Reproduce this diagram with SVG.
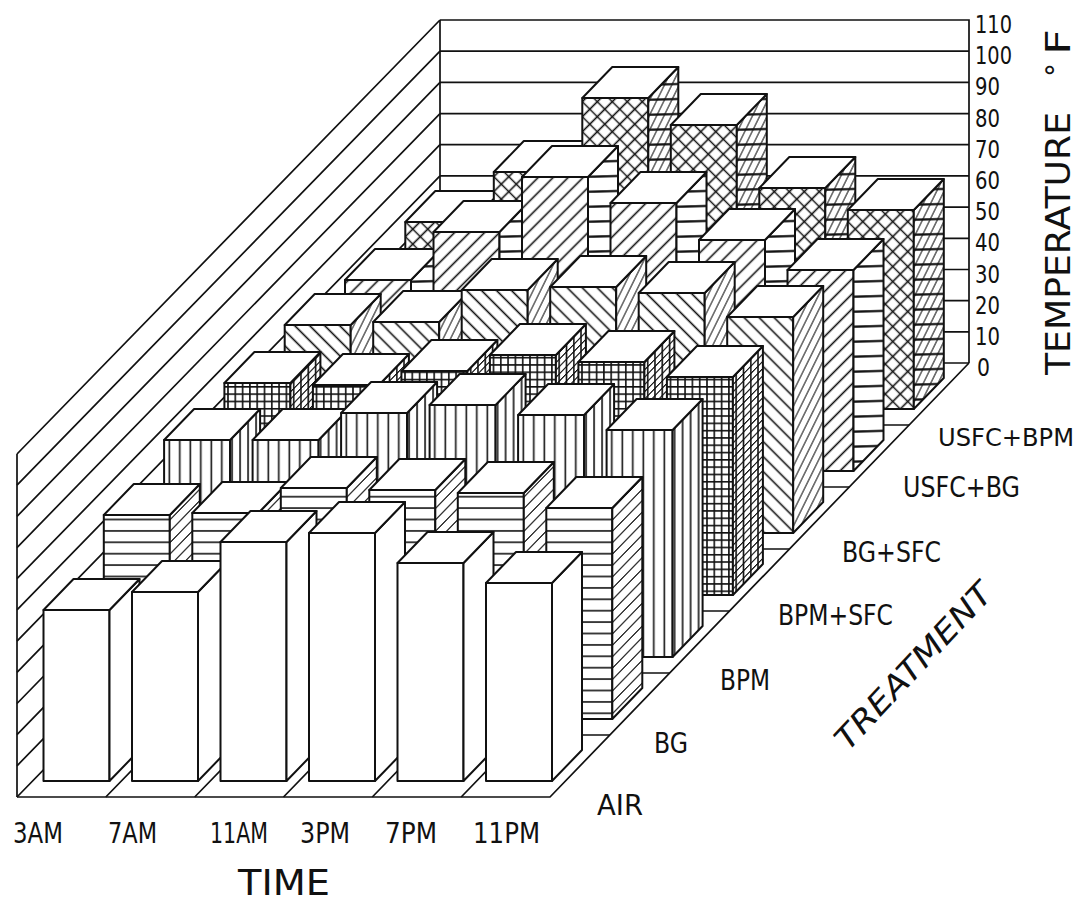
<svg xmlns="http://www.w3.org/2000/svg" width="1082" height="903" viewBox="0 0 1082 903">
<style>
.ln{stroke:#111;stroke-width:1.7;fill:none}
.bar rect,.bar path{stroke:#111;stroke-width:2;stroke-linejoin:round}
.tp{fill:#fff}
.r0 .fr,.r0 .sd{fill:#fff}
.r1 .fr{fill:url(#pH)}.r1 .sd{fill:url(#pHs)}
.r2 .fr{fill:url(#pV)}.r2 .sd{fill:url(#pVs)}
.r3 .fr{fill:url(#pG)}.r3 .sd{fill:url(#pGs)}
.r4 .fr{fill:url(#pB)}.r4 .sd{fill:url(#pBs)}
.r5 .fr{fill:url(#pF)}.r5 .sd{fill:url(#pFs)}
.r6 .fr{fill:url(#pX)}.r6 .sd{fill:url(#pXs)}
.t{font-family:"DejaVu Sans","Liberation Sans",sans-serif;fill:#111}
.hl{stroke:#111;stroke-width:1.6}
</style>
<defs>
<pattern id="pH" width="20" height="11.4" patternUnits="userSpaceOnUse"><rect width="20" height="11.4" fill="#fff"/><path class="hl" d="M0 5.7H20"/></pattern>
<pattern id="pHs" width="20" height="11.4" patternUnits="userSpaceOnUse" patternTransform="skewY(-45.8)"><rect width="20" height="11.4" fill="#fff"/><path class="hl" d="M0 5.7H20"/></pattern>
<pattern id="pV" width="10.5" height="20" patternUnits="userSpaceOnUse"><rect width="10.5" height="20" fill="#fff"/><path class="hl" d="M5.2 0V20"/></pattern>
<pattern id="pVs" width="8" height="20" patternUnits="userSpaceOnUse"><rect width="8" height="20" fill="#fff"/><path class="hl" d="M4 0V20"/></pattern>
<pattern id="pG" width="7.3" height="7.3" patternUnits="userSpaceOnUse"><rect width="7.3" height="7.3" fill="#fff"/><path class="hl" d="M0 3.6H7.3M3.6 0V7.3"/></pattern>
<pattern id="pGs" width="7.3" height="7.3" patternUnits="userSpaceOnUse" patternTransform="skewY(-45.8)"><rect width="7.3" height="7.3" fill="#fff"/><path class="hl" d="M0 3.6H7.3M3.6 0V7.3"/></pattern>
<pattern id="pB" width="20" height="10.6" patternUnits="userSpaceOnUse" patternTransform="rotate(45)"><rect width="20" height="10.6" fill="#fff"/><path class="hl" d="M0 5.3H20"/></pattern>
<pattern id="pBs" width="10.6" height="20" patternUnits="userSpaceOnUse" patternTransform="skewY(-45.8) rotate(45)"><rect width="10.6" height="20" fill="#fff"/><path class="hl" d="M5.3 0V20"/></pattern>
<pattern id="pF" width="10.6" height="20" patternUnits="userSpaceOnUse" patternTransform="rotate(45)"><rect width="10.6" height="20" fill="#fff"/><path class="hl" d="M5.3 0V20"/></pattern>
<pattern id="pFs" width="20" height="10.6" patternUnits="userSpaceOnUse" patternTransform="skewY(-45.8) rotate(45)"><rect width="20" height="10.6" fill="#fff"/><path class="hl" d="M0 5.3H20"/></pattern>
<pattern id="pX" width="10.6" height="10.6" patternUnits="userSpaceOnUse" patternTransform="rotate(45)"><rect width="10.6" height="10.6" fill="#fff"/><path class="hl" d="M0 5.3H10.6M5.3 0V10.6"/></pattern>
<pattern id="pXs" width="10.6" height="10.6" patternUnits="userSpaceOnUse" patternTransform="skewY(-45.8) rotate(45)"><rect width="10.6" height="10.6" fill="#fff"/><path class="hl" d="M0 5.3H10.6M5.3 0V10.6"/></pattern>
</defs>
<rect width="1082" height="903" fill="#fff"/>

<g id="walls" class="ln">
<path d="M440 20H969V363M440 20V363M17 454V797"/>
<path d="M440 51.2H969M440 82.4H969M440 113.6H969M440 144.7H969M440 175.9H969M440 207.1H969M440 238.3H969M440 269.5H969M440 300.6H969M440 331.8H969M440 363H969"/>
<path d="M440 20L17 454M440 51.2L17 485.2M440 82.4L17 516.4M440 113.6L17 547.6M440 144.7L17 578.7M440 175.9L17 609.9M440 207.1L17 641.1M440 238.3L17 672.3M440 269.5L17 703.5M440 300.6L17 734.6M440 331.8L17 765.8M440 363L17 797"/>
</g>
<g id="floor" class="ln">
<path d="M17 797H550L969 363"/>
<path d="M77.4 735H609.9M137.9 673H669.7M198.3 611H729.6M258.7 549H789.4M319.1 487H849.3M379.6 425H909.2"/>
<path d="M105.8 797L528.2 363M194.7 797L616.3 363M283.5 797L704.5 363M372.3 797L792.7 363M461.2 797L880.8 363"/>
</g>

<g id="bars">
<g id="row-usfc-bpm" class="bar r6">
<g id="b6-0" transform="translate(405.3,409)"><rect class="fr" y="-187" width="66" height="187"/><path class="sd" d="M66 0l30-31v-187l-30 31z"/><path class="tp" d="M0-187h66l30-31h-66z"/></g>
<g id="b6-1" transform="translate(493.8,409)"><rect class="fr" y="-237" width="66" height="237"/><path class="sd" d="M66 0l30-31v-237l-30 31z"/><path class="tp" d="M0-237h66l30-31h-66z"/></g>
<g id="b6-2" transform="translate(582.3,409)"><rect class="fr" y="-311" width="66" height="311"/><path class="sd" d="M66 0l30-31v-311l-30 31z"/><path class="tp" d="M0-311h66l30-31h-66z"/></g>
<g id="b6-3" transform="translate(670.8,409)"><rect class="fr" y="-284" width="66" height="284"/><path class="sd" d="M66 0l30-31v-284l-30 31z"/><path class="tp" d="M0-284h66l30-31h-66z"/></g>
<g id="b6-4" transform="translate(759.3,409)"><rect class="fr" y="-221" width="66" height="221"/><path class="sd" d="M66 0l30-31v-221l-30 31z"/><path class="tp" d="M0-221h66l30-31h-66z"/></g>
<g id="b6-5" transform="translate(847.8,409)"><rect class="fr" y="-199" width="66" height="199"/><path class="sd" d="M66 0l30-31v-199l-30 31z"/><path class="tp" d="M0-199h66l30-31h-66z"/></g>
</g>
<g id="row-usfc-bg" class="bar r5">
<g id="b5-0" transform="translate(345,471)"><rect class="fr" y="-191" width="66" height="191"/><path class="sd" d="M66 0l30-31v-191l-30 31z"/><path class="tp" d="M0-191h66l30-31h-66z"/></g>
<g id="b5-1" transform="translate(433.5,471)"><rect class="fr" y="-239" width="66" height="239"/><path class="sd" d="M66 0l30-31v-239l-30 31z"/><path class="tp" d="M0-239h66l30-31h-66z"/></g>
<g id="b5-2" transform="translate(522,471)"><rect class="fr" y="-294" width="66" height="294"/><path class="sd" d="M66 0l30-31v-294l-30 31z"/><path class="tp" d="M0-294h66l30-31h-66z"/></g>
<g id="b5-3" transform="translate(610.5,471)"><rect class="fr" y="-268" width="66" height="268"/><path class="sd" d="M66 0l30-31v-268l-30 31z"/><path class="tp" d="M0-268h66l30-31h-66z"/></g>
<g id="b5-4" transform="translate(699,471)"><rect class="fr" y="-231" width="66" height="231"/><path class="sd" d="M66 0l30-31v-231l-30 31z"/><path class="tp" d="M0-231h66l30-31h-66z"/></g>
<g id="b5-5" transform="translate(787.5,471)"><rect class="fr" y="-201" width="66" height="201"/><path class="sd" d="M66 0l30-31v-201l-30 31z"/><path class="tp" d="M0-201h66l30-31h-66z"/></g>
</g>
<g id="row-bg-sfc" class="bar r4">
<g id="b4-0" transform="translate(284.7,533)"><rect class="fr" y="-208" width="66" height="208"/><path class="sd" d="M66 0l30-31v-208l-30 31z"/><path class="tp" d="M0-208h66l30-31h-66z"/></g>
<g id="b4-1" transform="translate(373.2,533)"><rect class="fr" y="-211" width="66" height="211"/><path class="sd" d="M66 0l30-31v-211l-30 31z"/><path class="tp" d="M0-211h66l30-31h-66z"/></g>
<g id="b4-2" transform="translate(461.7,533)"><rect class="fr" y="-243" width="66" height="243"/><path class="sd" d="M66 0l30-31v-243l-30 31z"/><path class="tp" d="M0-243h66l30-31h-66z"/></g>
<g id="b4-3" transform="translate(550.2,533)"><rect class="fr" y="-246" width="66" height="246"/><path class="sd" d="M66 0l30-31v-246l-30 31z"/><path class="tp" d="M0-246h66l30-31h-66z"/></g>
<g id="b4-4" transform="translate(638.7,533)"><rect class="fr" y="-240" width="66" height="240"/><path class="sd" d="M66 0l30-31v-240l-30 31z"/><path class="tp" d="M0-240h66l30-31h-66z"/></g>
<g id="b4-5" transform="translate(727.2,533)"><rect class="fr" y="-216" width="66" height="216"/><path class="sd" d="M66 0l30-31v-216l-30 31z"/><path class="tp" d="M0-216h66l30-31h-66z"/></g>
</g>
<g id="row-bpm-sfc" class="bar r3">
<g id="b3-0" transform="translate(224.4,595)"><rect class="fr" y="-212" width="66" height="212"/><path class="sd" d="M66 0l30-31v-212l-30 31z"/><path class="tp" d="M0-212h66l30-31h-66z"/></g>
<g id="b3-1" transform="translate(312.9,595)"><rect class="fr" y="-210" width="66" height="210"/><path class="sd" d="M66 0l30-31v-210l-30 31z"/><path class="tp" d="M0-210h66l30-31h-66z"/></g>
<g id="b3-2" transform="translate(401.4,595)"><rect class="fr" y="-224" width="66" height="224"/><path class="sd" d="M66 0l30-31v-224l-30 31z"/><path class="tp" d="M0-224h66l30-31h-66z"/></g>
<g id="b3-3" transform="translate(489.9,595)"><rect class="fr" y="-240" width="66" height="240"/><path class="sd" d="M66 0l30-31v-240l-30 31z"/><path class="tp" d="M0-240h66l30-31h-66z"/></g>
<g id="b3-4" transform="translate(578.4,595)"><rect class="fr" y="-233" width="66" height="233"/><path class="sd" d="M66 0l30-31v-233l-30 31z"/><path class="tp" d="M0-233h66l30-31h-66z"/></g>
<g id="b3-5" transform="translate(666.9,595)"><rect class="fr" y="-218" width="66" height="218"/><path class="sd" d="M66 0l30-31v-218l-30 31z"/><path class="tp" d="M0-218h66l30-31h-66z"/></g>
</g>
<g id="row-bpm" class="bar r2">
<g id="b2-0" transform="translate(164.1,657)"><rect class="fr" y="-217" width="66" height="217"/><path class="sd" d="M66 0l30-31v-217l-30 31z"/><path class="tp" d="M0-217h66l30-31h-66z"/></g>
<g id="b2-1" transform="translate(252.6,657)"><rect class="fr" y="-217" width="66" height="217"/><path class="sd" d="M66 0l30-31v-217l-30 31z"/><path class="tp" d="M0-217h66l30-31h-66z"/></g>
<g id="b2-2" transform="translate(341.1,657)"><rect class="fr" y="-244" width="66" height="244"/><path class="sd" d="M66 0l30-31v-244l-30 31z"/><path class="tp" d="M0-244h66l30-31h-66z"/></g>
<g id="b2-3" transform="translate(429.6,657)"><rect class="fr" y="-252" width="66" height="252"/><path class="sd" d="M66 0l30-31v-252l-30 31z"/><path class="tp" d="M0-252h66l30-31h-66z"/></g>
<g id="b2-4" transform="translate(518.1,657)"><rect class="fr" y="-242" width="66" height="242"/><path class="sd" d="M66 0l30-31v-242l-30 31z"/><path class="tp" d="M0-242h66l30-31h-66z"/></g>
<g id="b2-5" transform="translate(606.6,657)"><rect class="fr" y="-227" width="66" height="227"/><path class="sd" d="M66 0l30-31v-227l-30 31z"/><path class="tp" d="M0-227h66l30-31h-66z"/></g>
</g>
<g id="row-bg" class="bar r1">
<g id="b1-0" transform="translate(103.8,719)"><rect class="fr" y="-204" width="66" height="204"/><path class="sd" d="M66 0l30-31v-204l-30 31z"/><path class="tp" d="M0-204h66l30-31h-66z"/></g>
<g id="b1-1" transform="translate(192.3,719)"><rect class="fr" y="-206" width="66" height="206"/><path class="sd" d="M66 0l30-31v-206l-30 31z"/><path class="tp" d="M0-206h66l30-31h-66z"/></g>
<g id="b1-2" transform="translate(280.8,719)"><rect class="fr" y="-231" width="66" height="231"/><path class="sd" d="M66 0l30-31v-231l-30 31z"/><path class="tp" d="M0-231h66l30-31h-66z"/></g>
<g id="b1-3" transform="translate(369.3,719)"><rect class="fr" y="-229" width="66" height="229"/><path class="sd" d="M66 0l30-31v-229l-30 31z"/><path class="tp" d="M0-229h66l30-31h-66z"/></g>
<g id="b1-4" transform="translate(457.8,719)"><rect class="fr" y="-226" width="66" height="226"/><path class="sd" d="M66 0l30-31v-226l-30 31z"/><path class="tp" d="M0-226h66l30-31h-66z"/></g>
<g id="b1-5" transform="translate(546.3,719)"><rect class="fr" y="-211" width="66" height="211"/><path class="sd" d="M66 0l30-31v-211l-30 31z"/><path class="tp" d="M0-211h66l30-31h-66z"/></g>
</g>
<g id="row-air" class="bar r0">
<g id="b0-0" transform="translate(43.5,781)"><rect class="fr" y="-171" width="66" height="171"/><path class="sd" d="M66 0l30-31v-171l-30 31z"/><path class="tp" d="M0-171h66l30-31h-66z"/></g>
<g id="b0-1" transform="translate(132,781)"><rect class="fr" y="-189" width="66" height="189"/><path class="sd" d="M66 0l30-31v-189l-30 31z"/><path class="tp" d="M0-189h66l30-31h-66z"/></g>
<g id="b0-2" transform="translate(220.5,781)"><rect class="fr" y="-239" width="66" height="239"/><path class="sd" d="M66 0l30-31v-239l-30 31z"/><path class="tp" d="M0-239h66l30-31h-66z"/></g>
<g id="b0-3" transform="translate(309,781)"><rect class="fr" y="-248" width="66" height="248"/><path class="sd" d="M66 0l30-31v-248l-30 31z"/><path class="tp" d="M0-248h66l30-31h-66z"/></g>
<g id="b0-4" transform="translate(397.5,781)"><rect class="fr" y="-218" width="66" height="218"/><path class="sd" d="M66 0l30-31v-218l-30 31z"/><path class="tp" d="M0-218h66l30-31h-66z"/></g>
<g id="b0-5" transform="translate(486,781)"><rect class="fr" y="-198" width="66" height="198"/><path class="sd" d="M66 0l30-31v-198l-30 31z"/><path class="tp" d="M0-198h66l30-31h-66z"/></g>
</g>
</g>

<g id="y-axis-labels" class="t" font-size="25">
<text x="975" y="33" textLength="37" lengthAdjust="spacingAndGlyphs">110</text>
<text x="975" y="64" textLength="37" lengthAdjust="spacingAndGlyphs">100</text>
<text x="975" y="95" textLength="25" lengthAdjust="spacingAndGlyphs">90</text>
<text x="975" y="126.5" textLength="25" lengthAdjust="spacingAndGlyphs">80</text>
<text x="975" y="157.5" textLength="25" lengthAdjust="spacingAndGlyphs">70</text>
<text x="975" y="189" textLength="25" lengthAdjust="spacingAndGlyphs">60</text>
<text x="975" y="220" textLength="25" lengthAdjust="spacingAndGlyphs">50</text>
<text x="975" y="251" textLength="25" lengthAdjust="spacingAndGlyphs">40</text>
<text x="975" y="282.5" textLength="25" lengthAdjust="spacingAndGlyphs">30</text>
<text x="975" y="313.5" textLength="25" lengthAdjust="spacingAndGlyphs">20</text>
<text x="975" y="345" textLength="25" lengthAdjust="spacingAndGlyphs">10</text>
<text x="977" y="376" textLength="13" lengthAdjust="spacingAndGlyphs">0</text>
</g>
<g id="y-axis-title" class="t">
<text transform="translate(1070,375) rotate(-90)" font-size="34"><tspan x="0" y="0" textLength="263" lengthAdjust="spacingAndGlyphs">TEMPERATURE</tspan><tspan x="298" y="-4" font-size="28">°</tspan><tspan x="320" y="0" textLength="26" lengthAdjust="spacingAndGlyphs">F</tspan></text>
</g>
<g id="x-axis-labels" class="t" font-size="28">
<text x="13" y="843" textLength="50" lengthAdjust="spacingAndGlyphs">3AM</text>
<text x="108" y="843" textLength="49" lengthAdjust="spacingAndGlyphs">7AM</text>
<text x="210" y="843" textLength="58" lengthAdjust="spacingAndGlyphs">11AM</text>
<text x="300" y="843" textLength="50" lengthAdjust="spacingAndGlyphs">3PM</text>
<text x="385" y="843" textLength="52" lengthAdjust="spacingAndGlyphs">7PM</text>
<text x="473" y="843" textLength="67" lengthAdjust="spacingAndGlyphs">11PM</text>
</g>
<g id="x-axis-title" class="t"><text x="238" y="895" font-size="36" textLength="92" lengthAdjust="spacingAndGlyphs">TIME</text></g>
<g id="treatment-labels" class="t" font-size="28">
<text x="597" y="815" textLength="46" lengthAdjust="spacingAndGlyphs">AIR</text>
<text x="654" y="753" textLength="34" lengthAdjust="spacingAndGlyphs">BG</text>
<text x="720" y="690" textLength="50" lengthAdjust="spacingAndGlyphs">BPM</text>
<text x="778" y="625" textLength="115" lengthAdjust="spacingAndGlyphs">BPM+SFC</text>
<text x="842" y="562" textLength="99" lengthAdjust="spacingAndGlyphs">BG+SFC</text>
<text x="903" y="497" textLength="117" lengthAdjust="spacingAndGlyphs">USFC+BG</text>
<text x="938" y="446" font-size="25" textLength="136" lengthAdjust="spacingAndGlyphs">USFC+BPM</text>
</g>
<g id="treatment-title" class="t"><text transform="translate(848,752) rotate(-47)" font-size="31" font-style="italic" textLength="215" lengthAdjust="spacingAndGlyphs">TREATMENT</text></g>
</svg>
